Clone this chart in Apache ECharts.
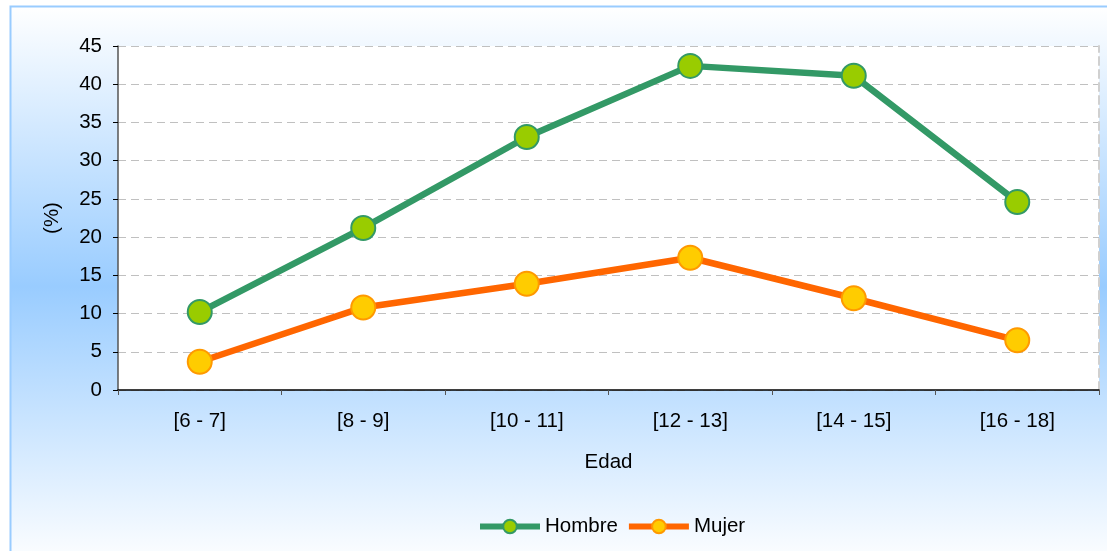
<!DOCTYPE html>
<html>
<head>
<meta charset="utf-8">
<script src="https://cdn.jsdelivr.net/npm/echarts@6/dist/echarts.min.js"></script>
<style>
  html, body { margin: 0; padding: 0; background: #fff; }
  #chart { width: 1107px; height: 551px; }
</style>
</head>
<body>
<div id="chart"></div>
<script>
  // datos
  var edades = ['[6 - 7]', '[8 - 9]', '[10 - 11]', '[12 - 13]', '[14 - 15]', '[16 - 18]']
  var hombre = [10.2, 21.2, 33.1, 42.4, 41.1, 24.6]
  var mujer = [3.7, 10.8, 13.9, 17.3, 12.0, 6.5]

  var font = 'Liberation Sans, Arial, sans-serif'
  var chart = echarts.init(document.getElementById('chart'))

  var option = {
    animation: false,
    textStyle: { fontFamily: font },
    graphic: [{
      type: 'rect',
      z: -10,
      shape: { x: 10.5, y: 6.5, width: 1110, height: 560 },
      style: {
        fill: new echarts.graphic.LinearGradient(0, 0, 0, 1, [
          { offset: 0, color: '#ffffff' },
          { offset: 0.5, color: '#99ccff' },
          { offset: 1, color: '#ffffff' }
        ]),
        stroke: '#99ccff',
        lineWidth: 2
      }
    }],
    grid: {
      left: 118,
      right: 8,
      top: 46,
      bottom: 161,
      show: true,
      backgroundColor: '#ffffff',
      borderWidth: 0
    },
    legend: {
      bottom: 9,
      left: 472,
      itemWidth: 60,
      itemHeight: 17,
      itemGap: 8,
      lineStyle: { width: 6 },
      textStyle: { fontSize: 20.5, color: '#000', fontFamily: font },
      data: ['Hombre', 'Mujer']
    },
    xAxis: {
      type: 'category',
      data: edades,
      name: 'Edad',
      nameLocation: 'middle',
      nameGap: 62,
      nameTextStyle: { fontSize: 20.5, color: '#000' },
      axisLine: { lineStyle: { color: '#000', width: 1.5 } },
      axisTick: { show: true, length: 5, lineStyle: { color: '#555' } },
      axisLabel: { fontSize: 20.5, color: '#000', margin: 21 },
      splitLine: { show: false }
    },
    yAxis: [{
      type: 'value',
      min: 0,
      max: 45,
      interval: 5,
      name: '(%)',
      nameLocation: 'middle',
      nameGap: 55,
      nameRotate: 90,
      nameTextStyle: { fontSize: 20.5, color: '#000' },
      axisLine: { show: true, lineStyle: { color: '#555', width: 1.5 } },
      axisTick: { show: true, length: 5, lineStyle: { color: '#000' } },
      axisLabel: { fontSize: 20.5, color: '#000', margin: 16 },
      splitLine: { show: true, lineStyle: { color: '#c0c0c0', type: [8, 5], width: 1 } }
    }, {
      type: 'value',
      min: 0,
      max: 45,
      interval: 5,
      position: 'right',
      axisLine: { show: true, lineStyle: { color: '#d0d0d0', type: [8, 5], width: 2 } },
      axisTick: { show: false },
      axisLabel: { show: false },
      splitLine: { show: false }
    }],
    series: [{
      name: 'Hombre',
      type: 'line',
      data: hombre,
      symbol: 'circle',
      symbolSize: 24,
      lineStyle: { color: '#339966', width: 6.5 },
      itemStyle: { color: '#99cc00', borderColor: '#339966', borderWidth: 2 }
    }, {
      name: 'Mujer',
      type: 'line',
      data: mujer,
      symbol: 'circle',
      symbolSize: 24,
      lineStyle: { color: '#ff6600', width: 6.5 },
      itemStyle: { color: '#ffcc00', borderColor: '#ff9900', borderWidth: 2 }
    }]
  }
  chart.setOption(option)
</script>
</body>
</html>
